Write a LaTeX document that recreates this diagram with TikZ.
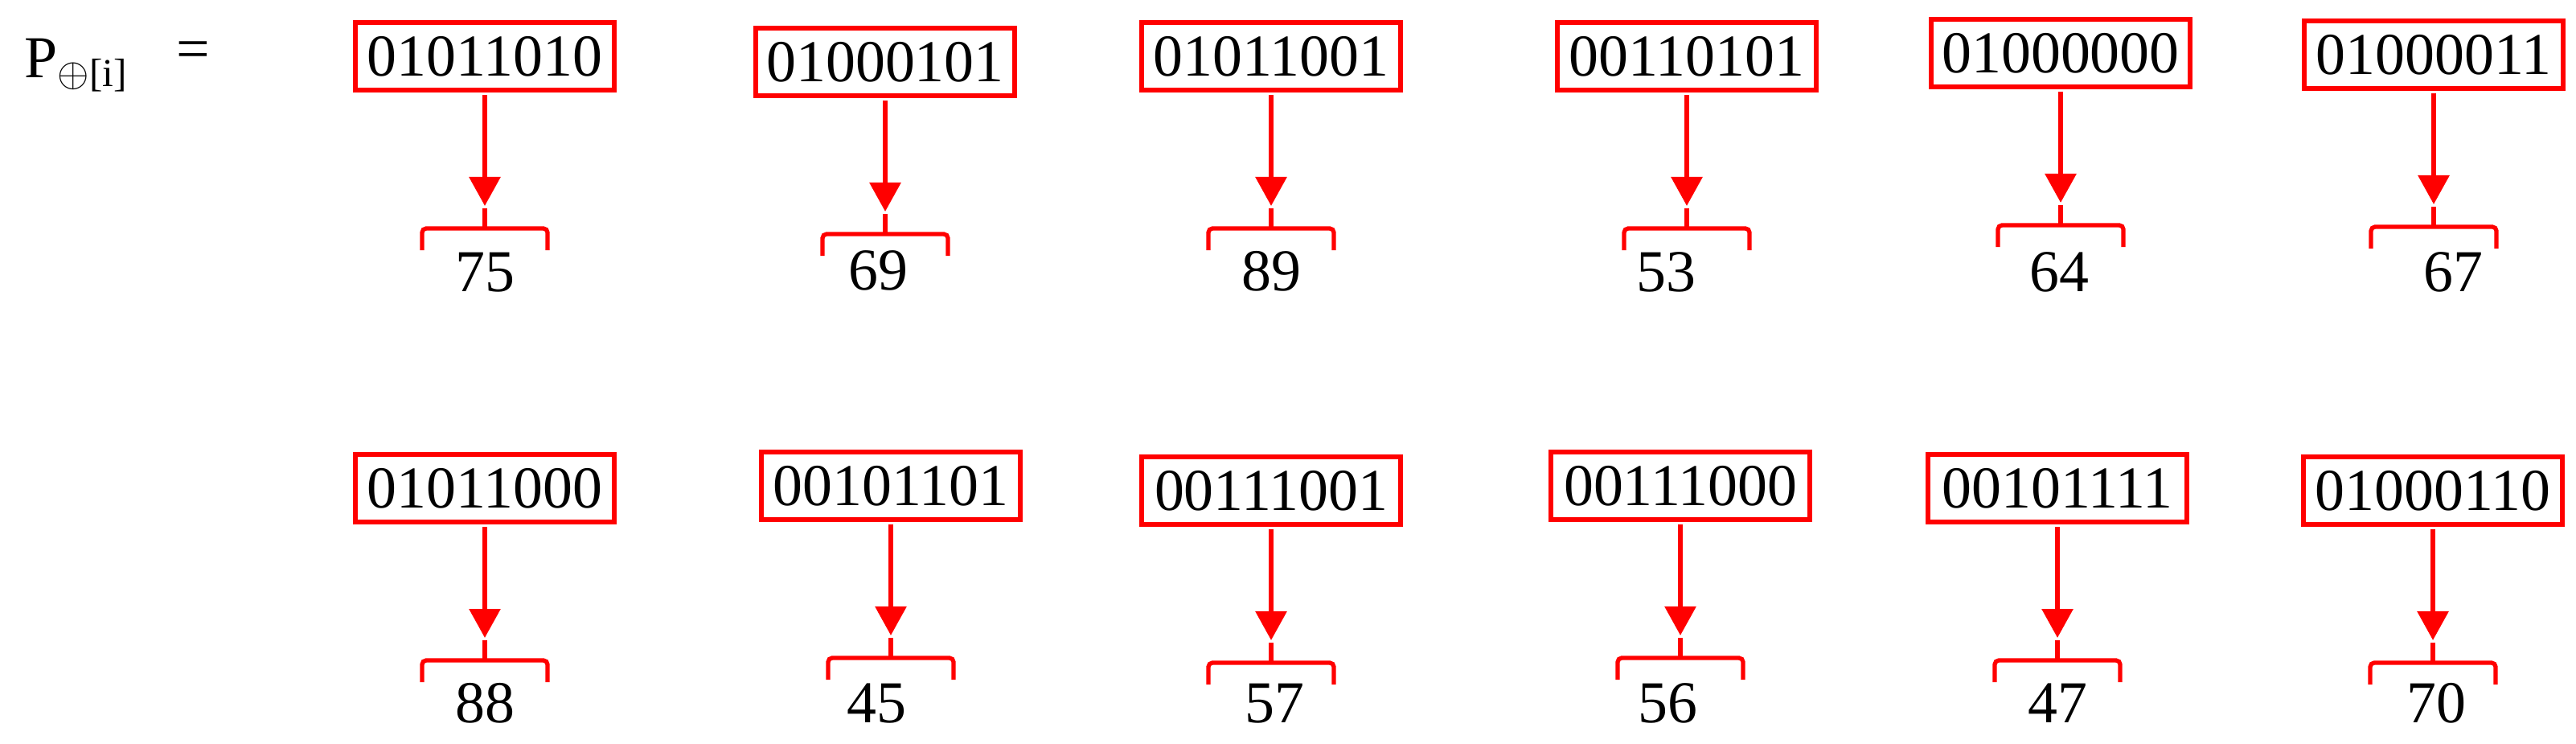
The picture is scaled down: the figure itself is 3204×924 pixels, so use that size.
\documentclass[tikz,border=0pt]{standalone}
\usepackage{fontspec}
\setmainfont{Liberation Serif}
\usepackage{amsmath}
\usepackage{tikz}
\usetikzlibrary{arrows.meta}

\begin{document}
\begin{tikzpicture}[
    font=\fontsize{21}{25}\selectfont, x=0.01cm, y=-0.01cm,
    bitbox/.style   ={draw=red, line width=1.7pt, rectangle, minimum width=3.21cm, minimum height=0.84cm, inner sep=0pt},
    maparrow/.style ={red, line width=1.7pt, -{Triangle[length=0.36cm, width=0.38cm]}, shorten <=0.03cm},
    valbrace/.style ={red, line width=1.5pt, rounded corners=0.05cm},
    vallab/.style   ={anchor=base, inner sep=0pt},
  ]
  % ---- frame: 1 unit = 1 px of the 3204 x 924 page, y grows downwards ----
  \useasboundingbox (0,0) rectangle (3204,924);

  % ---- left-hand label ----
  \node[anchor=base west, inner sep=0pt] (plab) at (30,97) {P\raisebox{-0.1cm}{\fontsize{14}{16}\selectfont$\oplus$[i]}};
  \node[inner sep=0pt] (eqsign) at (240,69) {=};

  % ---- boxes, arrows, braces and values: n / x / y / bits / value / value offset / value baseline ----
  \foreach \n/\x/\y/\bits/\val/\dx/\vy in {
      1/603/70/01011010/75/0/362,     2/1101/77/01000101/69/-9/360,
      3/1581/70/01011001/89/0/361,    4/2098/70/00110101/53/-26/362,
      5/2563/66/01000000/64/-2/362,   6/3027/68/01000011/67/24/362,
      7/603/607/01011000/88/0/898,    8/1108/604/00101101/45/-18/898,
      9/1581/610/00111001/57/4/898,   10/2090/604/00111000/56/-16/898,
      11/2559/607/00101111/47/0/898,  12/3026/610/01000110/70/4/898} {
    \node[bitbox] (b\n) at (\x,\y) {\bits};
    \coordinate (t\n) at ([shift={(0,141)}]b\n.south);
    \draw[maparrow] (b\n) -- (t\n);
    \draw[valbrace] ([shift={(0,3)}]t\n) -- ([shift={(0,28)}]t\n);
    \draw[valbrace] ([shift={(-78,55)}]t\n) -- ([shift={(-78,28)}]t\n)
                 -- ([shift={(78,28)}]t\n) -- ([shift={(78,55)}]t\n);
    \node[vallab] (v\n) at (\x+\dx,\vy) {\val};
  }
\end{tikzpicture}
\end{document}
